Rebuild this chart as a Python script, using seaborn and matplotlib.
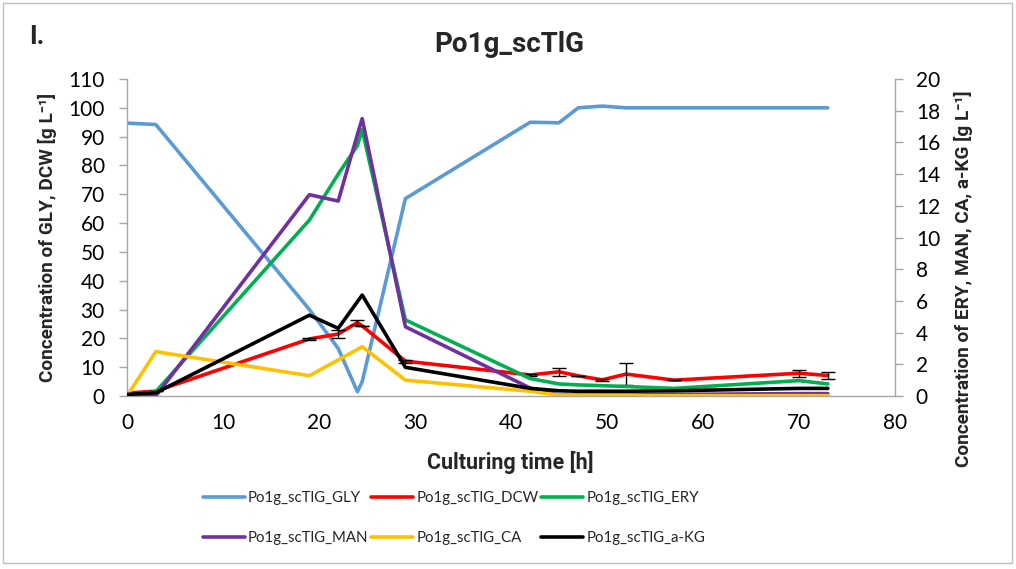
import numpy as np
import pandas as pd
import matplotlib
matplotlib.use("Agg")
import matplotlib.pyplot as plt
from matplotlib.patches import Rectangle
from matplotlib.lines import Line2D
import seaborn as sns

# Fermentation time course, strain Po1g_scTlG
time_h = [0, 3, 19, 22, 24, 24.5, 29, 42, 45, 47, 49.5, 52, 57, 70, 73]
gly = [94.7, 94.2, 30.0, 16.5, 1.5, 5.0, 68.5, 95.0, 94.8, 100.0, 100.6, 100.0, 100.0, 100.0, 100.0]
dcw = [1.0, 1.7, 19.8, 21.5, 25.5, 24.3, 12.1, 7.3, 8.4, 7.0, 5.6, 7.6, 5.5, 7.9, 7.1]
dcw_err = [0, 0, 0.4, 1.5, 0.7, 0, 0.5, 0.3, 1.3, 0, 0.3, 3.9, 0, 1.2, 1.2]
ery = [0.0, 0.27, 11.1, 14.0, 15.8, 16.8, 4.8, 1.1, 0.76, 0.7, 0.65, 0.6, 0.48, 0.97, 0.76]
man = [0.0, 0.0, 12.7, 12.3, 16.5, 17.5, 4.37, 0.5, 0.05, 0.05, 0.05, 0.05, 0.1, 0.15, 0.15]
ca = [0.0, 2.8, 1.28, 2.28, 2.94, 3.11, 1.0, 0.3, 0.05, 0.03, 0.02, 0.02, 0.02, 0.02, 0.02]
akg = [0.1, 0.2, 5.1, 4.27, 5.95, 6.37, 1.81, 0.48, 0.33, 0.3, 0.3, 0.3, 0.33, 0.48, 0.48]

prefix = "Po1g_scTlG_"
left_series = {"GLY": gly, "DCW": dcw}
right_series = {"ERY": ery, "MAN": man, "CA": ca, "a-KG": akg}
colors = {"GLY": "#5B9BD5", "DCW": "#FF0000", "ERY": "#00B050",
          "MAN": "#7030A0", "CA": "#FFC000", "a-KG": "#000000"}

def long_frame(series):
    rows = []
    for name, vals in series.items():
        for t, v in zip(time_h, vals):
            rows.append({"time": t, "value": v, "series": prefix + name})
    return pd.DataFrame(rows)

sns.set_style("white")
plt.rcParams["font.family"] = ["Lato", "DejaVu Sans"]
BOLD = ["Roboto", "DejaVu Sans"]
GRAY = "#A6A6A6"

fig = plt.figure(figsize=(10.16, 5.69), dpi=100)
ax = fig.add_axes([127 / 1016, 1 - 396 / 569, (895 - 127) / 1016, (396 - 79) / 569])
ax2 = ax.twinx()

pal = {prefix + k: v for k, v in colors.items()}
lw = 2.6
sns.lineplot(data=long_frame(left_series), x="time", y="value", hue="series",
             palette=pal, ax=ax, linewidth=lw, legend=False, sort=False,
             estimator=None)
ax.errorbar(time_h, dcw, yerr=dcw_err, fmt="none", ecolor="black",
            elinewidth=1.0, capsize=5, capthick=1.0, zorder=5)
sns.lineplot(data=long_frame(right_series), x="time", y="value", hue="series",
             palette=pal, ax=ax2, linewidth=lw, legend=False, sort=False,
             estimator=None)

ax.set_xlim(0, 80)
ax.set_ylim(0, 110)
ax2.set_ylim(0, 20)
ax.set_xticks(np.arange(0, 81, 10))
ax.set_yticks(np.arange(0, 111, 10))
ax2.set_yticks(np.arange(0, 21, 2))

for a in (ax, ax2):
    for s in a.spines.values():
        s.set_color(GRAY)
        s.set_linewidth(1.0)
    a.spines["top"].set_visible(False)
    a.tick_params(axis="both", which="both", direction="out", length=6,
                  width=1.0, color=GRAY, labelsize=15, labelcolor="black")
    a.set_xlabel("")
    a.set_ylabel("")
    a.grid(False)
ax.spines["right"].set_visible(False)
ax2.spines["left"].set_visible(False)
ax2.spines["bottom"].set_visible(False)
ax.tick_params(axis="y", pad=10)
ax2.tick_params(axis="y", pad=9)
ax.tick_params(axis="x", pad=6)

fig.text(37 / 1016, 1 - 37 / 569, "I.", fontsize=19, fontweight="bold",
         family=BOLD, ha="center", va="center")
fig.text(509 / 1016, 1 - 45 / 569, "Po1g_scTlG", fontsize=20, fontweight="bold",
         family=BOLD, ha="center", va="center")
fig.text(510 / 1016, 1 - 463 / 569, "Culturing time [h]", fontsize=15.5,
         fontweight="bold", family=BOLD, ha="center", va="center")
fig.text(47 / 1016, 1 - 237 / 569, "Concentration of GLY, DCW [g L\u207b\u00b9]",
         fontsize=13.7, fontweight="bold", family=BOLD, rotation=90,
         ha="center", va="center")
fig.text(963 / 1016, 1 - 279 / 569,
         "Concentration of ERY, MAN, CA, a-KG [g L\u207b\u00b9]",
         fontsize=13.7, fontweight="bold", family=BOLD, rotation=90,
         ha="center", va="center")

order = ["GLY", "MAN", "DCW", "CA", "ERY", "a-KG"]
handles = [Line2D([0], [0], color=colors[k], lw=lw) for k in order]
labels = [prefix + k for k in order]
fig.legend(handles, labels, ncol=3, loc="center", frameon=False,
           bbox_to_anchor=(454 / 1016, 1 - 518 / 569), fontsize=10.8,
           handlelength=2.8, handletextpad=0.2, columnspacing=0.2,
           labelspacing=1.75)

fig.patches.append(Rectangle((3 / 1016, 6 / 569), 1009 / 1016, 560 / 569,
                             transform=fig.transFigure, fill=False,
                             edgecolor="#BFBFBF", linewidth=1.0))

fig.savefig("out.png", dpi=100)
